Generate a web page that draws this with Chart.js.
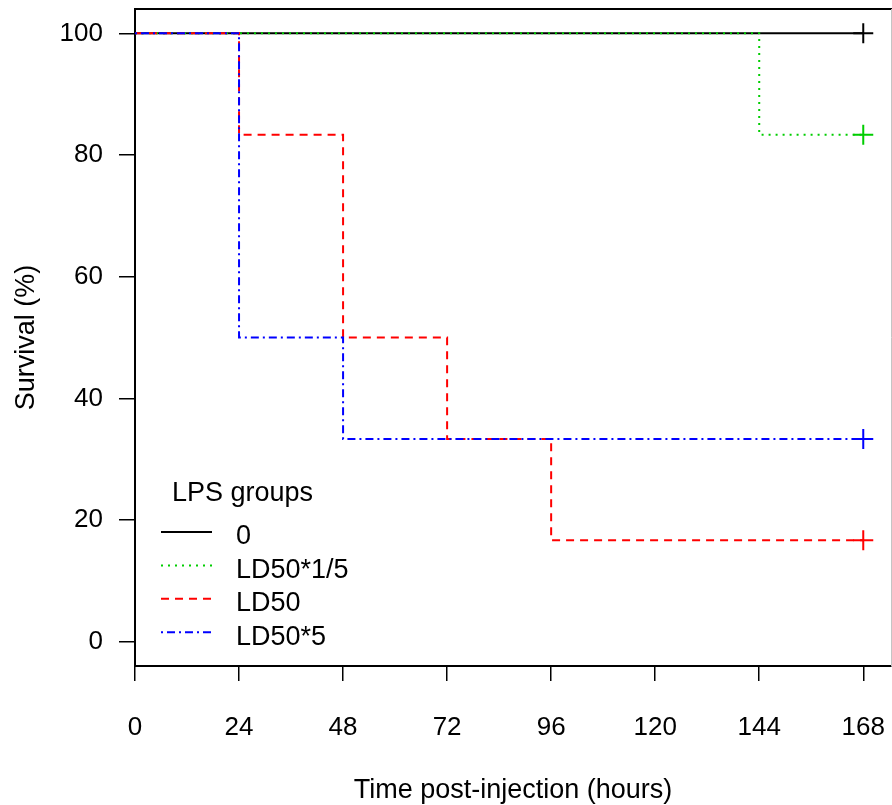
<!DOCTYPE html>
<html>
<head>
<meta charset="utf-8">
<title>LPS survival</title>
<script src="https://cdn.jsdelivr.net/npm/chart.js@4.4.1/dist/chart.umd.min.js"></script>
<style>
  html, body { margin: 0; padding: 0; background: #fff; }
  canvas { display: block; }
</style>
</head>
<body>
<canvas id="survivalChart" width="892" height="805"></canvas>
<script>
// Kaplan-Meier steps (time in hours, survival in %)
const groupNames = ['0', 'LD50*1/5', 'LD50', 'LD50*5'];
const timesCtrl = [0, 168];
const survCtrl = [100, 100];
const timesLow = [0, 144, 168];
const survLow = [100, 83.33, 83.33];
const timesMid = [0, 24, 48, 72, 96, 168];
const survMid = [100, 83.33, 50, 33.33, 16.67, 16.67];
const timesHigh = [0, 24, 48, 168];
const survHigh = [100, 50, 33.33, 33.33];

const xTicks = [0, 24, 48, 72, 96, 120, 144, 168];
const yTicks = [0, 20, 40, 60, 80, 100];

const FONT = '"Liberation Sans", Arial, Helvetica, sans-serif';

const toPoints = (times, surv) => times.map((t, i) => ({ x: t, y: surv[i] }));

// censoring "+" only on the last point of each curve
const lastOnly = (size) => (ctx) =>
  ctx.dataIndex === ctx.dataset.data.length - 1 ? size : 0;

const makeGroup = (label, times, surv, color, dash, order) => ({
  label,
  data: toPoints(times, surv),
  borderColor: color,
  borderWidth: 2,
  borderDash: dash,
  stepped: true,
  fill: false,
  tension: 0,
  order,
  pointStyle: 'cross',
  pointRadius: lastOnly(10),
  pointHoverRadius: lastOnly(10),
  pointBorderColor: color,
  pointBorderWidth: 2,
});

// axes sit flush with the plot box: drop the label overflow padding
const noEdgePadding = (axis) => {
  axis.paddingTop = 0;
  axis.paddingBottom = 0;
  axis.paddingLeft = 0;
  axis.paddingRight = 0;
};

// box around the plot region (top + right, axes draw left + bottom)
const boxPlugin = {
  id: 'plotBox',
  beforeDatasetsDraw(chart) {
    const { ctx, chartArea: a } = chart;
    ctx.save();
    ctx.strokeStyle = '#000';
    ctx.lineWidth = 2;
    ctx.beginPath();
    ctx.moveTo(a.left, a.top);
    ctx.lineTo(a.right + 1, a.top);
    ctx.stroke();
    ctx.strokeStyle = '#c4c4c4';
    ctx.lineWidth = 1;
    ctx.beginPath();
    ctx.moveTo(a.right + 0.5, a.top);
    ctx.lineTo(a.right + 0.5, a.bottom);
    ctx.stroke();
    ctx.restore();
  }
};

// R-style legend in the lower left of the plot
const legendPlugin = {
  id: 'lpsLegend',
  afterDatasetsDraw(chart) {
    const { ctx, chartArea: a } = chart;
    const lineX0 = a.left + 26;
    const lineX1 = a.left + 77;
    const textX = a.left + 101;
    const firstRow = a.top + 523;
    const rowGap = 33.4;

    ctx.save();
    ctx.fillStyle = '#000';
    ctx.font = '27px ' + FONT;
    ctx.textBaseline = 'middle';
    ctx.textAlign = 'left';
    ctx.fillText('LPS groups', a.left + 37, a.top + 485);

    chart.data.datasets.forEach((ds, i) => {
      const y = firstRow + i * rowGap;
      ctx.strokeStyle = ds.borderColor;
      ctx.lineWidth = 2;
      ctx.setLineDash(ds.borderDash);
      ctx.beginPath();
      ctx.moveTo(lineX0, y);
      ctx.lineTo(lineX1, y);
      ctx.stroke();
      ctx.setLineDash([]);
      ctx.fillStyle = '#000';
      ctx.fillText(ds.label, textX, y + 5);
    });
    ctx.restore();
  }
};

const tickFont = { family: FONT, size: 26 };
const titleFont = { family: FONT, size: 27, lineHeight: 1.1 };

new Chart(document.getElementById('survivalChart'), {
  type: 'line',
  data: {
    datasets: [
      makeGroup(groupNames[0], timesCtrl, survCtrl, '#000000', [], 4),
      makeGroup(groupNames[1], timesLow, survLow, '#00cd00', [2, 5], 3),
      makeGroup(groupNames[2], timesMid, survMid, '#ff0000', [8, 6], 2),
      makeGroup(groupNames[3], timesHigh, survHigh, '#0000ff', [2, 4, 8, 4], 1),
    ]
  },
  options: {
    responsive: false,
    animation: false,
    events: [],
    layout: { autoPadding: false, padding: { top: 9, right: 1, left: 0, bottom: 0 } },
    plugins: {
      legend: { display: false },
      tooltip: { enabled: false }
    },
    scales: {
      x: {
        type: 'linear',
        min: 0,
        max: 174.4,
        afterBuildTicks: (axis) => { axis.ticks = xTicks.map(v => ({ value: v })); },
        afterFit: (axis) => { axis.height = 139; noEdgePadding(axis); },
        border: { display: true, color: '#000', width: 2 },
        grid: { drawOnChartArea: false, drawTicks: true, tickLength: 15, color: '#000', lineWidth: 1.5 },
        ticks: { color: '#000', font: tickFont, padding: 31, maxRotation: 0, autoSkip: false },
        title: {
          display: true,
          text: 'Time post-injection (hours)',
          color: '#000',
          font: titleFont,
          padding: { top: 0, bottom: 0 }
        }
      },
      y: {
        type: 'linear',
        min: -4,
        max: 104,
        afterBuildTicks: (axis) => { axis.ticks = yTicks.map(v => ({ value: v })); },
        afterFit: (axis) => { axis.width = 135; noEdgePadding(axis); },
        border: { display: true, color: '#000', width: 2 },
        grid: { drawOnChartArea: false, drawTicks: true, tickLength: 16, color: '#000', lineWidth: 1.5 },
        ticks: { color: '#000', font: tickFont, padding: 16, autoSkip: false },
        title: {
          display: true,
          text: 'Survival (%)',
          color: '#000',
          font: titleFont,
          padding: { top: 12, bottom: 0 }
        }
      }
    }
  },
  plugins: [boxPlugin, legendPlugin]
});
</script>
</body>
</html>
